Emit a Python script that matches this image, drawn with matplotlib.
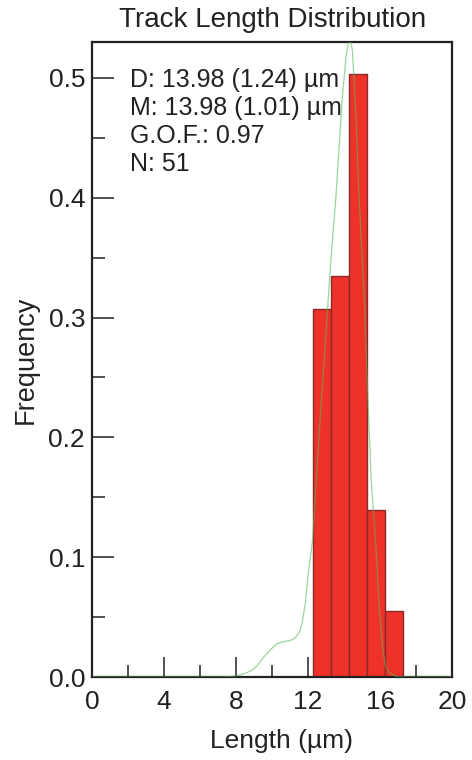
import numpy as np
import matplotlib
matplotlib.use("Agg")
import matplotlib.pyplot as plt
from matplotlib.ticker import MultipleLocator

plt.rcParams['font.family'] = ['Liberation Sans', 'DejaVu Sans']

# Histogram bins (left edges, µm) and relative frequencies
bin_left = [7.25, 8.25, 9.25, 10.25, 11.25, 12.25, 13.25, 14.25, 15.25, 16.25]
freq = [0.0, 0.0, 0.0, 0.0, 0.0, 0.307, 0.335, 0.503, 0.139, 0.055]
bin_width = 1.0

# Fitted length distribution curve
curve_x = [0.0, 7.3, 7.7, 8.0, 8.5, 8.93, 9.2, 9.5, 9.8, 10.06, 10.3, 10.5,
           10.8, 11.1, 11.3, 11.5, 11.6, 11.7, 11.85, 11.97, 12.1, 12.25,
           12.6, 13.07, 13.3, 13.54, 13.9, 14.1, 14.2, 14.3, 14.38, 14.46,
           14.65, 14.83, 15.02, 15.1, 15.3, 15.5, 15.76, 15.94, 16.13, 16.3,
           16.5, 16.67, 17.0, 20.0]
curve_y = [0.0, 0.0, 0.0005, 0.001, 0.003, 0.006, 0.010, 0.016, 0.021, 0.025,
           0.028, 0.029, 0.030, 0.031, 0.033, 0.037, 0.041, 0.048, 0.062,
           0.081, 0.097, 0.115, 0.20, 0.305, 0.355, 0.40, 0.484, 0.517, 0.527,
           0.531, 0.529, 0.523, 0.47, 0.40, 0.345, 0.323, 0.24, 0.165, 0.11,
           0.06, 0.025, 0.009, 0.004, 0.002, 0.0, 0.0]

stats = ["D: 13.98 (1.24) \u00b5m",
         "M: 13.98 (1.01) \u00b5m",
         "G.O.F.: 0.97",
         "N: 51"]

fig = plt.figure(figsize=(4.72, 7.6), dpi=100)
ax = fig.add_axes([0.195, 0.1092, 0.763, 0.8355])

ax.bar(bin_left, freq, width=bin_width, align='edge', color='#ee3129',
       edgecolor='#8a2a26', linewidth=1.0, zorder=2)
ax.plot(curve_x, curve_y, color='#5cb85c', alpha=0.6, linewidth=0.9, zorder=3)

ax.set_xlim(0, 20)
ax.set_ylim(0, 0.53)
ax.xaxis.set_major_locator(MultipleLocator(4))
ax.xaxis.set_minor_locator(MultipleLocator(2))
ax.yaxis.set_major_locator(MultipleLocator(0.1))
ax.yaxis.set_minor_locator(MultipleLocator(0.05))
ax.yaxis.set_major_formatter(matplotlib.ticker.FormatStrFormatter('%.1f'))

for s in ax.spines.values():
    s.set_linewidth(1.6)
    s.set_color('#222222')

ax.tick_params(which='both', direction='in', colors='#222222', width=1.1,
               labelsize=19, top=False, right=False)
ax.tick_params(axis='x', which='major', length=14.5, pad=9)
ax.tick_params(axis='x', which='minor', length=8.5)
ax.tick_params(axis='y', which='major', length=16, pad=5)
ax.tick_params(axis='y', which='minor', length=9.5)

ax.set_title("Track Length Distribution", fontsize=20, pad=10.5, color='#222222')
ax.set_xlabel("Length (\u00b5m)", fontsize=19, color='#222222')
ax.set_ylabel("Frequency", fontsize=19.5, color='#222222')
ax.xaxis.set_label_coords(0.525, -0.082)
ax.yaxis.set_label_coords(-0.147, 0.5)

for i, line in enumerate(stats):
    ax.text(0.105, 0.929 - i * 0.0441, line, transform=ax.transAxes,
            fontsize=18, color='#222222', va='baseline', ha='left', zorder=4)

fig.savefig("out.png", dpi=100)
